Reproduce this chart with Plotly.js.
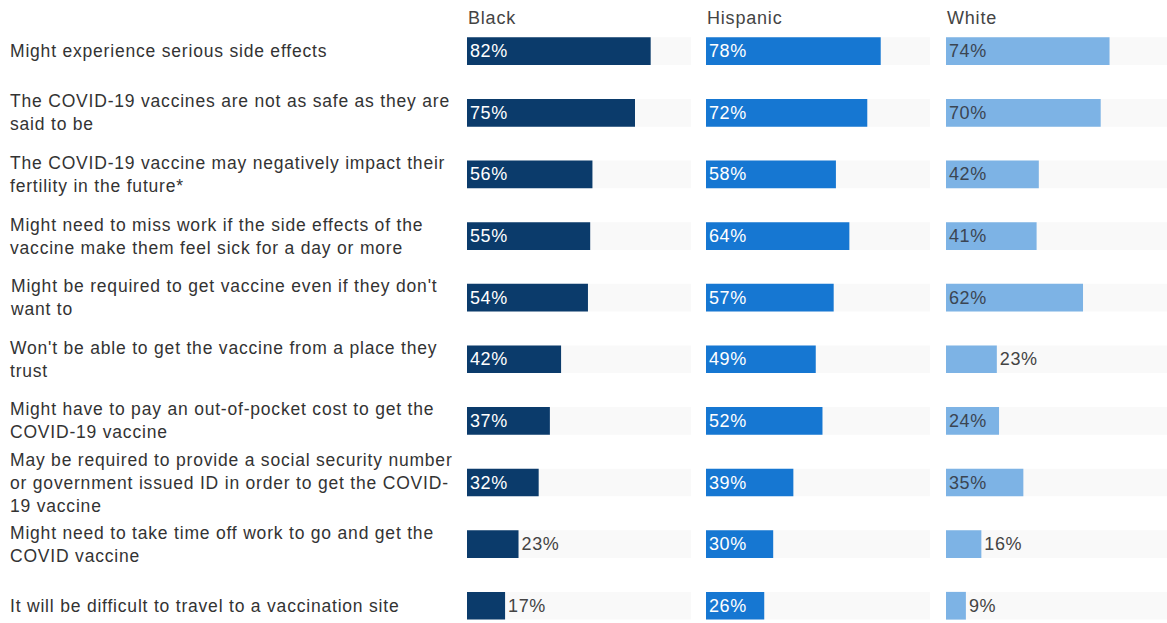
<!DOCTYPE html>
<html><head><meta charset="utf-8">
<script src="https://cdn.plot.ly/plotly-3.0.1.min.js"></script>
<style>html,body{margin:0;padding:0;background:#fff}#chart{width:1167px;height:623px}
.annotation-text {letter-spacing:0.8px}
.bartext {letter-spacing:0.6px}</style>
</head><body><div id="chart"></div>
<script>
const categories = [
  "Might experience serious side effects",
  "The COVID-19 vaccines are not as safe as they are<br>said to be",
  "The COVID-19 vaccine may negatively impact their<br>fertility in the future*",
  "Might need to miss work if the side effects of the<br>vaccine make them feel sick for a day or more",
  "Might be required to get vaccine even if they don't<br>want to",
  "Won't be able to get the vaccine from a place they<br>trust",
  "Might have to pay an out-of-pocket cost to get the<br>COVID-19 vaccine",
  "May be required to provide a social security number<br>or government issued ID in order to get the COVID-<br>19 vaccine",
  "Might need to take time off work to go and get the<br>COVID vaccine",
  "It will be difficult to travel to a vaccination site"
];
const groups = ["Black", "Hispanic", "White"];
const black = [82, 75, 56, 55, 54, 42, 37, 32, 23, 17];
const hispanic = [78, 72, 58, 64, 57, 49, 52, 39, 30, 26];
const white = [74, 70, 42, 41, 62, 23, 24, 35, 16, 9];

const series = [black, hispanic, white];
const colors = ["#0b3b6b", "#1677d2", "#7db3e5"];
const insideText = ["#ffffff", "#ffffff", "#3b4552"];
const xa = ["x", "x2", "x3"];
const FONT = "Liberation Sans, Arial, sans-serif";

const traces = [];
series.forEach((vals, i) => {
  traces.push({
    type: "bar", orientation: "h",
    y: categories, x: categories.map(() => 100),
    xaxis: xa[i], yaxis: "y",
    marker: {color: "#f9f9f9"},
    hoverinfo: "skip", showlegend: false
  });
  traces.push({
    type: "bar", orientation: "h",
    y: categories, x: vals,
    xaxis: xa[i], yaxis: "y",
    marker: {color: colors[i]},
    text: vals.map(v => v + "%"),
    textposition: vals.map(v => v >= 24 ? "inside" : "outside"),
    insidetextanchor: "start",
    textangle: 0,
    insidetextfont: {color: insideText[i], size: 18, family: FONT},
    outsidetextfont: {color: "#444444", size: 18, family: FONT},
    constraintext: "none",
    cliponaxis: false,
    showlegend: false
  });
});

const W = 1167;
const doms = [[467 / W, 691 / W], [706 / W, 930 / W], [946 / W, 1]];
function xaxis(d) {
  return {domain: d, range: [0, 100], showgrid: false, zeroline: false,
    showticklabels: false, showline: false, fixedrange: true};
}

const annotations = [];
categories.forEach(c => {
  annotations.push({
    xref: "paper", yref: "y", x: 8 / W, y: c, text: c,
    xanchor: "left", yanchor: "middle", align: "left", showarrow: false,
    font: {family: FONT, size: 17.5, color: "#333333"}
  });
});
groups.forEach((g, i) => {
  annotations.push({
    xref: xa[i] + " domain", yref: "paper", x: -0.005, y: 1 - 18 / 623, text: g,
    xanchor: "left", yanchor: "middle", showarrow: false,
    font: {family: FONT, size: 18, color: "#444444"}
  });
});

const layout = {
  width: 1167, height: 623,
  margin: {l: 0, r: 0, t: 0, b: 0},
  paper_bgcolor: "#ffffff", plot_bgcolor: "#ffffff",
  barmode: "overlay", bargap: 0.55,
  font: {family: FONT},
  xaxis: xaxis(doms[0]), xaxis2: xaxis(doms[1]), xaxis3: xaxis(doms[2]),
  yaxis: {type: "category", range: [9.28, -0.83], showticklabels: false,
    showgrid: false, zeroline: false, fixedrange: true},
  annotations: annotations
};
Plotly.newPlot("chart", traces, layout, {displayModeBar: false, staticPlot: true});
</script></body></html>
